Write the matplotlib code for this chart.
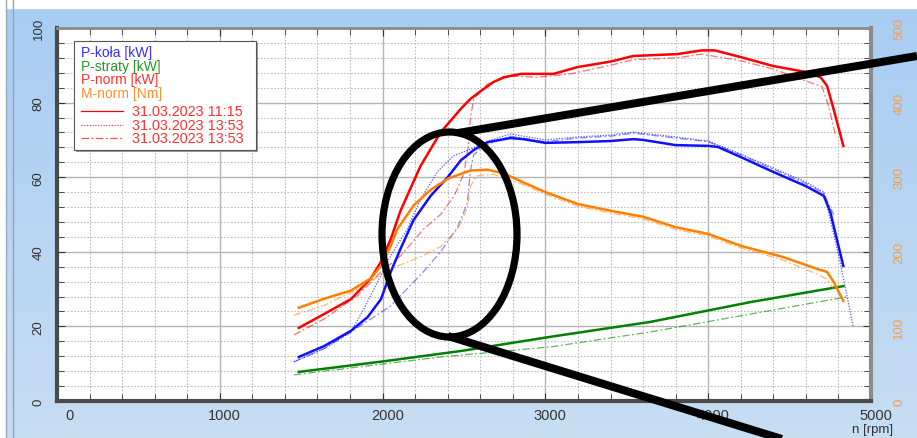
import numpy as np
import matplotlib
matplotlib.use('Agg')
import matplotlib.pyplot as plt
import matplotlib.transforms as mtrans
from matplotlib.patches import Ellipse, Rectangle
from matplotlib.lines import Line2D

plt.rcParams['font.family'] = ['Liberation Sans', 'DejaVu Sans']

W, H = 917, 439

# ---- data (rpm / kW, torque in Nm) ----
# run 31.03.2023 11:15 (solid)
rpm_norm_a = [1485, 1640, 1805, 1925, 1990, 2050, 2110, 2233, 2356, 2480, 2540, 2600, 2680, 2745,
              2850, 3050, 3195, 3400, 3540, 3810, 3960, 4040, 4200, 4400, 4600, 4690, 4730, 4770, 4830]
p_norm_a = [19.6, 23.3, 27.3, 32.7, 37.3, 43.4, 51.0, 63.0, 72.0, 78.3, 81.0, 83.0, 85.5, 86.8,
            87.7, 87.7, 89.5, 91.0, 92.5, 93.0, 94.0, 94.0, 92.2, 89.8, 88.2, 86.8, 84.5, 78.3, 68.4]

rpm_kola_a = [1485, 1640, 1805, 1908, 1990, 2050, 2110, 2190, 2295, 2400, 2480, 2560, 2645, 2785,
              2865, 3000, 3200, 3400, 3540, 3600, 3800, 4000, 4060, 4200, 4400, 4600, 4710,
              4750, 4790, 4830]
p_kola_a = [11.8, 14.7, 18.8, 22.5, 27.3, 34.6, 40.8, 48.5, 55.0, 60.0, 64.5, 67.3, 69.4, 70.5,
            70.2, 69.2, 69.4, 69.7, 70.2, 70.0, 68.6, 68.4, 68.1, 65.4, 61.4, 57.6, 55.0,
            50.7, 43.4, 36.2]

rpm_m_a = [1485, 1640, 1805, 1925, 1990, 2050, 2090, 2190, 2295, 2400, 2540, 2645, 2745,
           2865, 3000, 3200, 3400, 3600, 3800, 4000, 4200, 4460, 4670, 4730, 4770, 4830]
m_norm_a = [125, 137, 148, 164, 181, 208, 230, 262, 283, 298, 309, 310, 305,
            293, 280, 264, 255, 247, 233, 224, 208, 193, 177, 173, 160, 134]

rpm_str_a = [1485, 2000, 2480, 3030, 3644, 4258, 4830]
p_str_a = [7.8, 10.6, 13.4, 17.2, 21.2, 26.5, 30.8]

# run 31.03.2023 13:53 (dotted)
rpm_kola_b = [1455, 1640, 1805, 1885, 1970, 2050, 2150, 2233, 2337, 2435, 2540, 2645, 2785,
              2865, 3000, 3200, 3400, 3540, 3800, 4000, 4200, 4600, 4710, 4810, 4890]
p_kola_b = [10.5, 14.0, 18.5, 24.7, 32.0, 39.0, 46.0, 54.0, 61.5, 65.7, 67.5, 69.7, 71.6,
            71.0, 70.0, 70.8, 71.3, 72.1, 70.8, 69.7, 66.2, 58.7, 56.0, 37.3, 20.1]

# run 31.03.2023 13:53 (dash-dot)
rpm_norm_c = [1455, 1640, 1845, 1990, 2110, 2250, 2356, 2440, 2500, 2525, 2540, 2560, 2645,
              2785, 2950, 3155, 3400, 3540, 3810, 3960, 4200, 4400, 4600, 4700, 4740, 4780]
p_norm_c = [17.7, 22.0, 28.2, 34.6, 38.9, 46.0, 50.0, 55.0, 61.0, 68.0, 76.0, 81.0, 85.0,
            87.1, 86.8, 87.7, 90.0, 91.5, 92.0, 93.0, 91.2, 89.0, 85.8, 84.2, 79.0, 71.6]

rpm_kola_c = [1455, 1640, 1805, 2050, 2250, 2356, 2460, 2520, 2540, 2560, 2620, 2785,
              3000, 3200, 3400, 3540, 3800, 4000, 4200, 4600, 4710, 4770]
p_kola_c = [10.5, 14.0, 18.5, 25.5, 34.6, 40.0, 46.5, 53.0, 62.0, 66.0, 68.4, 71.0,
            69.5, 70.5, 71.0, 71.8, 70.5, 69.5, 66.0, 58.3, 55.7, 50.0]

rpm_m_c = [1455, 1640, 1845, 2050, 2250, 2356, 2460, 2520, 2540, 2580, 2680, 2865,
           3000, 3200, 3400, 3600, 3800, 4000, 4200, 4460, 4670, 4730, 4770]
m_norm_c = [115, 128, 150, 177, 195, 207, 230, 258, 288, 302, 304, 290,
            277, 261, 252, 244, 230, 221, 205, 189, 170, 163, 150]

rpm_str_c = [1455, 2356, 3030, 3644, 4258, 4850]
p_str_c = [7.0, 11.8, 14.5, 18.5, 23.3, 27.9]

legend_names = ['P-koła [kW]', 'P-straty [kW]', 'P-norm [kW]', 'M-norm [Nm]']
legend_cols = ['#3030ff', '#259625', '#ff3030', '#ff9030']
run_names = ['31.03.2023 11:15', '31.03.2023 13:53', '31.03.2023 13:53']

blue, green, red, orange = '#1010ff', '#008000', '#ff0000', '#ff8000'
dotted = (0, (1, 1.2))
dashdot = (0, (6, 2, 1.5, 2))


def fx(px):
    return px / W


def fy(py):
    return 1 - py / H


fig = plt.figure(figsize=(W / 100, H / 100), dpi=100)

# background panel
bg = fig.add_axes([0, 0, 1, 1], zorder=-10)
grad = np.linspace(0, 1, 200).reshape(-1, 1)
c_top = np.array([0.66, 0.80, 0.95])
c_bot = np.array([0.78, 0.87, 0.95])
img = c_top + (c_bot - c_top) * grad[..., None]
bg.imshow(img, aspect='auto', extent=[0, 1, 0, 1], origin='upper')
bg.add_patch(Rectangle((0, fy(9)), 1, 1, color='white'))
bg.add_patch(Rectangle((0, 0), fx(5), 1, color='white'))
bg.axvline(fx(6), color='#9aa8b8', lw=1)
bg.axvline(fx(12.5), color='#8fa3ba', lw=1)
bg.set_xlim(0, 1)
bg.set_ylim(0, 1)
bg.axis('off')

ax = fig.add_axes([fx(57), fy(402), fx(871) - fx(57), fy(29) - fy(402)])
ax.set_facecolor('white')
ax.set_xlim(0, 5000)
ax.set_ylim(0, 100)
ax2 = ax.twinx()
ax2.set_ylim(0, 500)

# grid
ax.set_xticks(range(0, 5001, 1000))
ax.set_xticks(range(0, 5001, 200), minor=True)
ax.set_yticks(range(0, 101, 20))
ax.set_yticks(range(0, 101, 4), minor=True)
ax.grid(which='major', color='#b4b4b4', lw=1.0, ls='-')
ax.grid(which='minor', color='#bcbcbc', lw=0.8, ls=(0, (1.5, 1.5)))
ax.set_axisbelow(True)
ax2.set_yticks(range(0, 501, 100))
ax2.set_yticks(range(0, 501, 20), minor=True)

for a in (ax, ax2):
    a.tick_params(which='both', direction='in', top=True, bottom=True, color='#333333')
    a.tick_params(which='major', length=6)
    a.tick_params(which='minor', length=5)
ax.tick_params(axis='y', labelrotation=90, labelsize=9.5, pad=9, right=False)
ax.tick_params(axis='x', labelsize=10.5, pad=5, colors='#333333')
ax.tick_params(axis='y', colors='#333333')
ax2.tick_params(axis='y', labelrotation=90, labelsize=9.5, pad=16, labelcolor='#ff9a3c')
for lab in ax.get_yticklabels():
    lab.set_va('center')
for lab in ax2.get_yticklabels():
    lab.set_va('center')

for i, lab in enumerate(ax.get_xticklabels()):
    shift = 13 if i == 0 else 5
    lab.set_transform(lab.get_transform() + mtrans.ScaledTranslation(shift / 100, 0, fig.dpi_scale_trans))

for s, c, w in [('left', '#4a4a4a', 3), ('bottom', '#4a4a4a', 3), ('top', '#8a8a8a', 2), ('right', '#8a8a8a', 3)]:
    ax2.spines[s].set_color(c)
    ax2.spines[s].set_linewidth(w)
    ax.spines[s].set_visible(False)

# curves, thin runs first
ax.plot(rpm_str_c, p_str_c, color=green, lw=0.9, alpha=0.6, ls=dashdot)
ax.plot(rpm_norm_c, p_norm_c, color=red, lw=0.9, alpha=0.55, ls=dashdot)
ax.plot(rpm_kola_c, p_kola_c, color=blue, lw=0.9, alpha=0.5, ls=dashdot)
ax2.plot(rpm_m_c, m_norm_c, color=orange, lw=0.9, alpha=0.55, ls=dashdot)
ax.plot(rpm_kola_b, p_kola_b, color=blue, lw=0.9, alpha=0.7, ls=dotted)

ax.plot(rpm_str_a, p_str_a, color=green, lw=1.8)
ax.plot(rpm_kola_a, p_kola_a, color=blue, lw=1.8)
ax.plot(rpm_norm_a, p_norm_a, color=red, lw=1.8)
ax2.plot(rpm_m_a, m_norm_a, color=orange, lw=1.8)

fig.text(fx(873), fy(430), 'n [rpm]', fontsize=9.5, color='#333333', ha='center', va='center')

# legend box
fig.patches.append(Rectangle((fx(76), fy(153)), fx(256) - fx(74), fy(42) - fy(151),
                             transform=fig.transFigure, facecolor='#9a9a9a', edgecolor='none', zorder=5))
fig.patches.append(Rectangle((fx(74), fy(151)), fx(256) - fx(74), fy(42) - fy(151),
                             transform=fig.transFigure, facecolor='white', edgecolor='#555555',
                             lw=0.8, zorder=6))
for i, (name, col) in enumerate(zip(legend_names, legend_cols)):
    fig.text(fx(81), fy(53 + i * 13.7), name, color=col, fontsize=10, ha='left', va='center', zorder=7)
for i, (name, st) in enumerate(zip(run_names, ['-', dotted, dashdot])):
    yy = fy(112 + i * 13.7)
    fig.lines.append(Line2D([fx(81), fx(123)], [yy, yy], transform=fig.transFigure,
                            color=red, lw=0.9, ls=st, alpha=1.0 if i == 0 else 0.7, zorder=7))
    fig.text(fx(132), yy, name, color='#ff3030', fontsize=10.4, ha='left', va='center', zorder=7)

# black highlight ellipse with its two lines
fig.patches.append(Ellipse((fx(449.5), fy(235.5)), 135 / W, 205 / H, transform=fig.transFigure,
                           fill=False, edgecolor='black', lw=5.2, zorder=20))
fig.lines.append(Line2D([fx(458), fx(917)], [fy(134), fy(57)], transform=fig.transFigure,
                        color='black', lw=5.8, zorder=20, solid_capstyle='butt'))
fig.lines.append(Line2D([fx(448), fx(785)], [fy(337), fy(441)], transform=fig.transFigure,
                        color='black', lw=5.8, zorder=20, solid_capstyle='butt'))

fig.savefig('out.png', dpi=100)
